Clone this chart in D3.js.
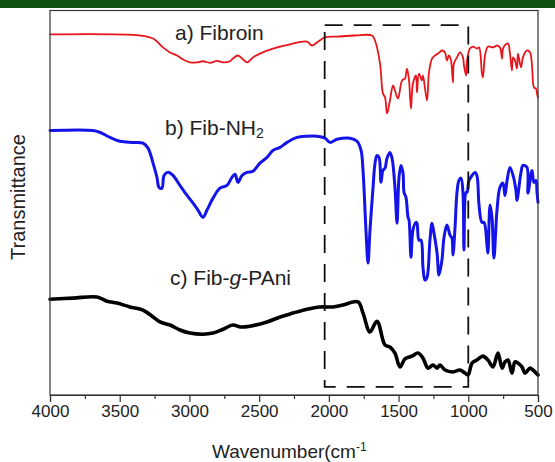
<!DOCTYPE html>
<html>
<head>
<meta charset="utf-8">
<script src="https://cdn.jsdelivr.net/npm/d3@7"></script>
<style>
  html, body { margin: 0; padding: 0; background: #fff; }
  svg { display: block; font-family: "Liberation Sans", Arial, sans-serif; }
</style>
</head>
<body>
<svg id="chart" width="555" height="462"></svg>
<script>
// FTIR spectra: [wavenumber (cm^-1), transmittance (a.u., stacked)]
const fibroin = [
  [4000,93.8],[3355,93.5],[3261,92.7],[3190,90.4],[3139,89.1],[3089,88.3],[3046,87.3],[2996,86.5],
  [2946,86.5],[2903,86.8],[2853,86.4],[2802,86.9],[2759,86.5],[2709,86.8],[2688,87.5],[2652,88.3],
  [2616,87.3],[2587,86.5],[2544,87.8],[2494,88.8],[2401,90.1],[2279,91.2],[2157,91.9],[2121,90.9],
  [2085,91.7],[2028,93.0],[1942,93.2],[1813,93.5],[1691,93.5],[1669,92.2],[1633,86.2],[1612,78.4],
  [1597,77.4],[1583,73.2],[1562,76.6],[1540,80.5],[1526,79.2],[1504,77.1],[1475,81.8],[1454,82.3],
  [1440,84.9],[1425,81.8],[1411,74.5],[1397,81.0],[1375,83.1],[1368,78.7],[1354,83.6],[1332,81.8],
  [1325,83.1],[1296,76.6],[1282,83.9],[1260,87.5],[1239,88.3],[1217,88.8],[1189,89.6],[1167,89.1],
  [1153,87.0],[1139,88.3],[1124,87.0],[1110,81.3],[1103,86.2],[1081,87.8],[1059,89.1],[1038,87.8],
  [1031,85.7],[1016,83.1],[1009,87.0],[988,90.1],[966,90.6],[938,90.1],[923,90.4],[902,83.6],
  [895,82.6],[880,88.3],[859,90.6],[823,90.4],[794,90.9],[773,90.4],[758,87.5],[751,90.1],
  [730,91.2],[715,91.4],[701,88.8],[687,84.4],[679,87.8],[665,87.0],[651,84.9],[644,88.8],
  [622,85.2],[608,87.8],[579,89.6],[557,89.1],[543,85.7],[529,80.0],[515,79.7],[507,78.4],[500,77.4]
];

const fibNH2 = [
  [4000,68.8],[3692,68.8],[3641,68.3],[3570,67.0],[3498,66.0],[3405,65.7],[3333,65.5],[3297,64.2],
  [3261,60.3],[3233,56.6],[3218,54.0],[3197,53.8],[3182,57.1],[3154,57.9],[3118,57.1],[3068,54.5],
  [3017,51.9],[2974,49.9],[2939,48.1],[2903,46.2],[2874,48.1],[2831,51.2],[2781,53.8],[2731,54.5],
  [2695,56.6],[2673,57.4],[2652,55.3],[2623,57.1],[2587,57.9],[2544,58.2],[2494,60.3],[2444,61.8],
  [2401,63.6],[2350,64.4],[2300,65.7],[2229,67.0],[2157,67.3],[2085,67.3],[2028,66.8],[1992,65.7],
  [1942,66.5],[1848,66.8],[1798,66.0],[1769,63.6],[1755,58.4],[1734,42.9],[1719,34.3],[1705,42.9],
  [1683,54.0],[1669,60.3],[1655,62.3],[1640,61.8],[1626,55.3],[1612,58.4],[1597,59.0],[1583,61.6],
  [1562,63.1],[1547,61.6],[1526,54.0],[1511,44.7],[1497,56.6],[1483,59.7],[1468,57.7],[1461,52.7],
  [1447,51.4],[1432,46.2],[1425,45.5],[1411,35.8],[1397,42.9],[1375,44.9],[1368,44.7],[1354,40.3],
  [1339,40.3],[1325,33.2],[1311,29.9],[1296,30.6],[1275,40.3],[1260,44.7],[1246,42.1],[1224,36.9],
  [1210,31.2],[1189,35.1],[1174,41.0],[1153,44.2],[1131,41.6],[1117,40.8],[1110,36.4],[1095,43.6],
  [1081,52.7],[1067,55.8],[1052,56.4],[1038,52.5],[1031,37.7],[1016,52.7],[1009,52.7],[995,55.8],
  [973,57.1],[952,57.9],[938,57.1],[923,49.4],[902,44.9],[887,44.9],[866,39.0],[859,36.9],
  [844,49.4],[830,46.2],[816,35.6],[794,48.1],[773,54.0],[751,55.1],[737,51.9],[722,55.8],
  [701,59.2],[679,57.1],[658,53.2],[651,50.6],[622,57.9],[608,59.7],[579,59.2],[572,52.5],
  [543,58.4],[529,55.3],[515,55.8],[507,52.7],[500,50.1]
];

const fibPAni = [
  [4000,24.9],[3835,25.2],[3663,25.5],[3591,24.4],[3519,23.9],[3426,22.9],[3333,22.1],[3261,20.3],
  [3211,19.0],[3139,18.2],[3068,16.9],[2996,16.1],[2903,15.8],[2831,16.1],[2759,17.1],[2688,18.2],
  [2637,17.7],[2566,17.9],[2444,19.0],[2350,20.3],[2257,21.3],[2157,22.3],[2064,22.9],[1970,22.9],
  [1899,23.4],[1791,24.2],[1755,21.3],[1705,16.4],[1655,19.2],[1597,13.0],[1562,12.5],[1526,10.9],
  [1490,7.3],[1454,9.4],[1404,10.1],[1361,10.9],[1325,9.6],[1289,7.0],[1253,7.8],[1224,7.0],
  [1203,7.8],[1167,6.5],[1110,6.0],[1059,6.5],[1024,5.7],[1002,5.2],[973,8.3],[938,9.1],
  [895,10.1],[859,9.1],[823,7.3],[787,10.9],[758,7.0],[737,8.6],[715,9.1],[687,5.7],
  [665,8.6],[644,8.3],[615,7.3],[593,5.7],[557,7.0],[536,6.5],[500,5.2]
];

const majorTicks = [4000, 3500, 3000, 2500, 2000, 1500, 1000, 500];
const minorTicks = [3750, 3250, 2750, 2250, 1750, 1250, 750];

// highlighted fingerprint window (wavenumber span, transmittance span)
const windowWn = [2030, 1000];
const windowT = [2.1, 96.2];

const svg = d3.select("#chart");
const W = 555, H = 462;
const plot = { left: 50, right: 538, top: 10.5, bottom: 395 };

const x = d3.scaleLinear().domain([4000, 500]).range([plot.left, plot.right]);
const y = d3.scaleLinear().domain([0, 100]).range([plot.bottom, plot.top]);

// banner strip across the top edge
svg.append("rect").attr("x", 0).attr("y", 0).attr("width", W).attr("height", 8)
  .attr("fill", "#10520f");

// spectra
const line = d3.line()
  .x(d => x(d[0]))
  .y(d => y(d[1]))
  .curve(d3.curveCatmullRom.alpha(0.5));

const series = [
  { data: fibroin, color: "#e8161c", width: 1.8 },
  { data: fibNH2, color: "#1414e8", width: 3 },
  { data: fibPAni, color: "#000000", width: 3.6 }
];

svg.append("g").selectAll("path").data(series).join("path")
  .attr("d", d => line(d.data))
  .attr("fill", "none")
  .attr("stroke", d => d.color)
  .attr("stroke-width", d => d.width)
  .attr("stroke-linejoin", "round")
  .attr("stroke-linecap", "round");

// dashed window
svg.append("rect")
  .attr("x", x(windowWn[0]))
  .attr("y", y(windowT[1]))
  .attr("width", x(windowWn[1]) - x(windowWn[0]))
  .attr("height", y(windowT[0]) - y(windowT[1]))
  .attr("fill", "none")
  .attr("stroke", "#111")
  .attr("stroke-width", 1.8)
  .attr("stroke-dasharray", "18,11");

// frame
svg.append("rect")
  .attr("x", plot.left).attr("y", plot.top)
  .attr("width", plot.right - plot.left).attr("height", plot.bottom - plot.top)
  .attr("fill", "none").attr("stroke", "#333").attr("stroke-width", 1.2);

// x axis
const gx = svg.append("g").attr("transform", `translate(0,${plot.bottom})`)
  .call(d3.axisBottom(x).tickValues(majorTicks).tickSize(7).tickPadding(3).tickFormat(d3.format("d")));
gx.select(".domain").attr("stroke", "#333").attr("stroke-width", 1.2);
gx.selectAll(".tick line").attr("stroke", "#333").attr("stroke-width", 1.2);
gx.selectAll(".tick text").attr("font-size", 17).attr("fill", "#222")
  .attr("font-family", "'Liberation Sans', Arial, sans-serif");

const gm = svg.append("g").attr("transform", `translate(0,${plot.bottom})`)
  .call(d3.axisBottom(x).tickValues(minorTicks).tickSize(4).tickFormat(""));
gm.select(".domain").remove();
gm.selectAll(".tick line").attr("stroke", "#333").attr("stroke-width", 1.2);

// axis titles
const xt = svg.append("text").attr("x", 212).attr("y", 458)
  .attr("font-size", 19).attr("fill", "#222");
xt.append("tspan").text("Wavenumber(cm");
xt.append("tspan").attr("font-size", 12).attr("dy", -7).text("-1");

svg.append("text")
  .attr("transform", "translate(25,197) rotate(-90)")
  .attr("text-anchor", "middle")
  .attr("font-size", 20).attr("fill", "#222")
  .text("Transmittance");

// series labels
const la = svg.append("text").attr("x", 175).attr("y", 40).attr("font-size", 21).attr("fill", "#222");
la.text("a) Fibroin");

const lb = svg.append("text").attr("x", 165).attr("y", 135).attr("font-size", 21).attr("fill", "#222");
lb.append("tspan").text("b) Fib-NH");
lb.append("tspan").attr("font-size", 14).attr("dy", 3).text("2");

const lc = svg.append("text").attr("x", 170).attr("y", 285).attr("font-size", 21).attr("fill", "#222");
lc.append("tspan").text("c) Fib-");
lc.append("tspan").attr("font-style", "italic").text("g");
lc.append("tspan").text("-PAni");
</script>
</body>
</html>
